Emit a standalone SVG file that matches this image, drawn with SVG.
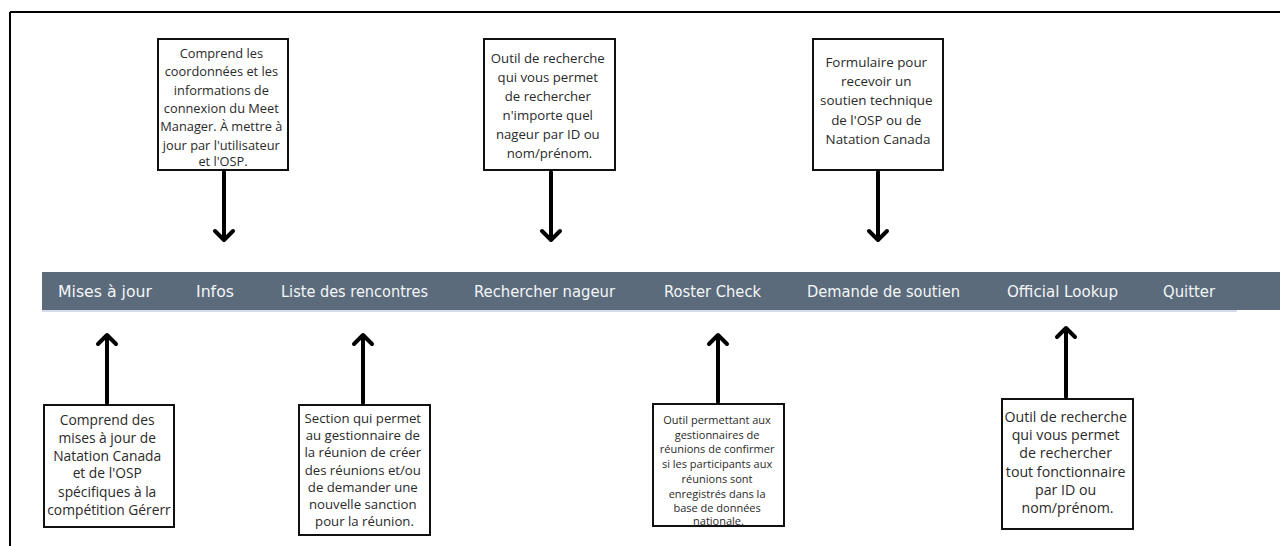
<svg xmlns="http://www.w3.org/2000/svg" width="1280" height="546" viewBox="0 0 1280 546">
<style>
.box{fill:#fff;stroke:#111;stroke-width:2}
.t{font-family:"Open Sans","Noto Sans","DejaVu Sans",sans-serif;fill:#2a2a2a;text-anchor:middle}
.menu{font-family:"DejaVu Sans Condensed","DejaVu Sans",sans-serif;font-size:15px;fill:#f4f6f8}
.arr{fill:none;stroke:#000;stroke-width:4;stroke-linecap:round;stroke-linejoin:round}
</style>
<rect width="1280" height="546" fill="#fff"/>
<g id="frame">
<line x1="10" y1="12" x2="1280" y2="12" stroke="#000" stroke-width="2"/>
<line x1="10" y1="12" x2="10" y2="546" stroke="#000" stroke-width="2"/>
</g>
<g id="menubar">
<rect x="42" y="272" width="1238" height="38" fill="#5b6b7c"/>
<line x1="42" y1="311" x2="1237" y2="311" stroke="#d3dce6" stroke-width="2"/>
<text class="menu" x="58" y="297" textLength="94" lengthAdjust="spacingAndGlyphs">Mises à jour</text>
<text class="menu" x="196" y="297" textLength="38" lengthAdjust="spacingAndGlyphs">Infos</text>
<text class="menu" x="281" y="297" textLength="147" lengthAdjust="spacingAndGlyphs">Liste des rencontres</text>
<text class="menu" x="474" y="297" textLength="141" lengthAdjust="spacingAndGlyphs">Rechercher nageur</text>
<text class="menu" x="664" y="297" textLength="97" lengthAdjust="spacingAndGlyphs">Roster Check</text>
<text class="menu" x="807" y="297" textLength="153" lengthAdjust="spacingAndGlyphs">Demande de soutien</text>
<text class="menu" x="1007" y="297" textLength="111" lengthAdjust="spacingAndGlyphs">Official Lookup</text>
<text class="menu" x="1163" y="297" textLength="52" lengthAdjust="spacingAndGlyphs">Quitter</text>
</g>
<g id="top-infos">
<rect class="box" x="158" y="39" width="130" height="131"/>
<text class="t" font-size="12.8">
<tspan x="223" y="57.5">Comprend les</tspan>
<tspan x="223" y="76">coordonnées et les</tspan>
<tspan x="223" y="94.5">informations de</tspan>
<tspan x="223" y="113">connexion du Meet</tspan>
<tspan x="223" y="131">Manager. À mettre à</tspan>
<tspan x="223" y="149.5">jour par l'utilisateur</tspan>
<tspan x="223" y="166">et l'OSP.</tspan>
</text>
</g>
<g id="top-rechercher">
<rect class="box" x="484" y="39" width="131" height="131"/>
<text class="t" font-size="13.2">
<tspan x="549.5" y="62.5">Outil de recherche</tspan>
<tspan x="549.5" y="82">qui vous permet</tspan>
<tspan x="549.5" y="101">de rechercher</tspan>
<tspan x="549.5" y="120">n'importe quel</tspan>
<tspan x="549.5" y="139">nageur par ID ou</tspan>
<tspan x="549.5" y="158">nom/prénom.</tspan>
</text>
</g>
<g id="top-soutien">
<rect class="box" x="813" y="39" width="130" height="131"/>
<text class="t" font-size="13.4">
<tspan x="878" y="67">Formulaire pour</tspan>
<tspan x="878" y="86">recevoir un</tspan>
<tspan x="878" y="105">soutien technique</tspan>
<tspan x="878" y="124.5">de l'OSP ou de</tspan>
<tspan x="878" y="144">Natation Canada</tspan>
</text>
</g>
<g id="bottom-mises">
<rect class="box" x="44" y="405" width="130" height="122"/>
<text class="t" font-size="13.8">
<tspan x="109" y="424.5">Comprend des</tspan>
<tspan x="109" y="442.5">mises à jour de</tspan>
<tspan x="109" y="460.5">Natation Canada</tspan>
<tspan x="109" y="478">et de l'OSP</tspan>
<tspan x="109" y="496.5">spécifiques à la</tspan>
<tspan x="109" y="514.5">compétition Gérerr</tspan>
</text>
</g>
<g id="bottom-liste">
<rect class="box" x="299" y="405" width="131" height="130"/>
<text class="t" font-size="13.2">
<tspan x="364.5" y="422.5">Section qui permet</tspan>
<tspan x="364.5" y="440">au gestionnaire de</tspan>
<tspan x="364.5" y="457">la réunion de créer</tspan>
<tspan x="364.5" y="474.5">des réunions et/ou</tspan>
<tspan x="364.5" y="491.5">de demander une</tspan>
<tspan x="364.5" y="508.5">nouvelle sanction</tspan>
<tspan x="364.5" y="526">pour la réunion.</tspan>
</text>
</g>
<g id="bottom-roster">
<rect class="box" x="653" y="404" width="131" height="122"/>
<text class="t" font-size="11">
<tspan x="718.5" y="424">Outil permettant aux</tspan>
<tspan x="718.5" y="438.5">gestionnaires de</tspan>
<tspan x="718.5" y="453">réunions de confirmer</tspan>
<tspan x="718.5" y="468">si les participants aux</tspan>
<tspan x="718.5" y="483">réunions sont</tspan>
<tspan x="718.5" y="497.5">enregistrés dans la</tspan>
<tspan x="718.5" y="512">base de données</tspan>
<tspan x="718.5" y="525">nationale.</tspan>
</text>
</g>
<g id="bottom-official">
<rect class="box" x="1002" y="399" width="131" height="130"/>
<text class="t" font-size="14.2">
<tspan x="1067.5" y="422">Outil de recherche</tspan>
<tspan x="1067.5" y="440">qui vous permet</tspan>
<tspan x="1067.5" y="458">de rechercher</tspan>
<tspan x="1067.5" y="476.5">tout fonctionnaire</tspan>
<tspan x="1067.5" y="494.5">par ID ou</tspan>
<tspan x="1067.5" y="513">nom/prénom.</tspan>
</text>
</g>
<g id="connectors">
<path class="arr" d="M224 172 V239 M215 231 L224 240 L233 231"/>
<path class="arr" d="M551 172 V239 M542 231 L551 240 L560 231"/>
<path class="arr" d="M878 172 V239 M869 231 L878 240 L887 231"/>
<path class="arr" d="M107 403 V336 M98 344 L107 335 L116 344"/>
<path class="arr" d="M363 403 V336 M354 344 L363 335 L372 344"/>
<path class="arr" d="M718 402 V336 M709 344 L718 335 L727 344"/>
<path class="arr" d="M1066 397 V329 M1057 337 L1066 328 L1075 337"/>
</g>
</svg>
